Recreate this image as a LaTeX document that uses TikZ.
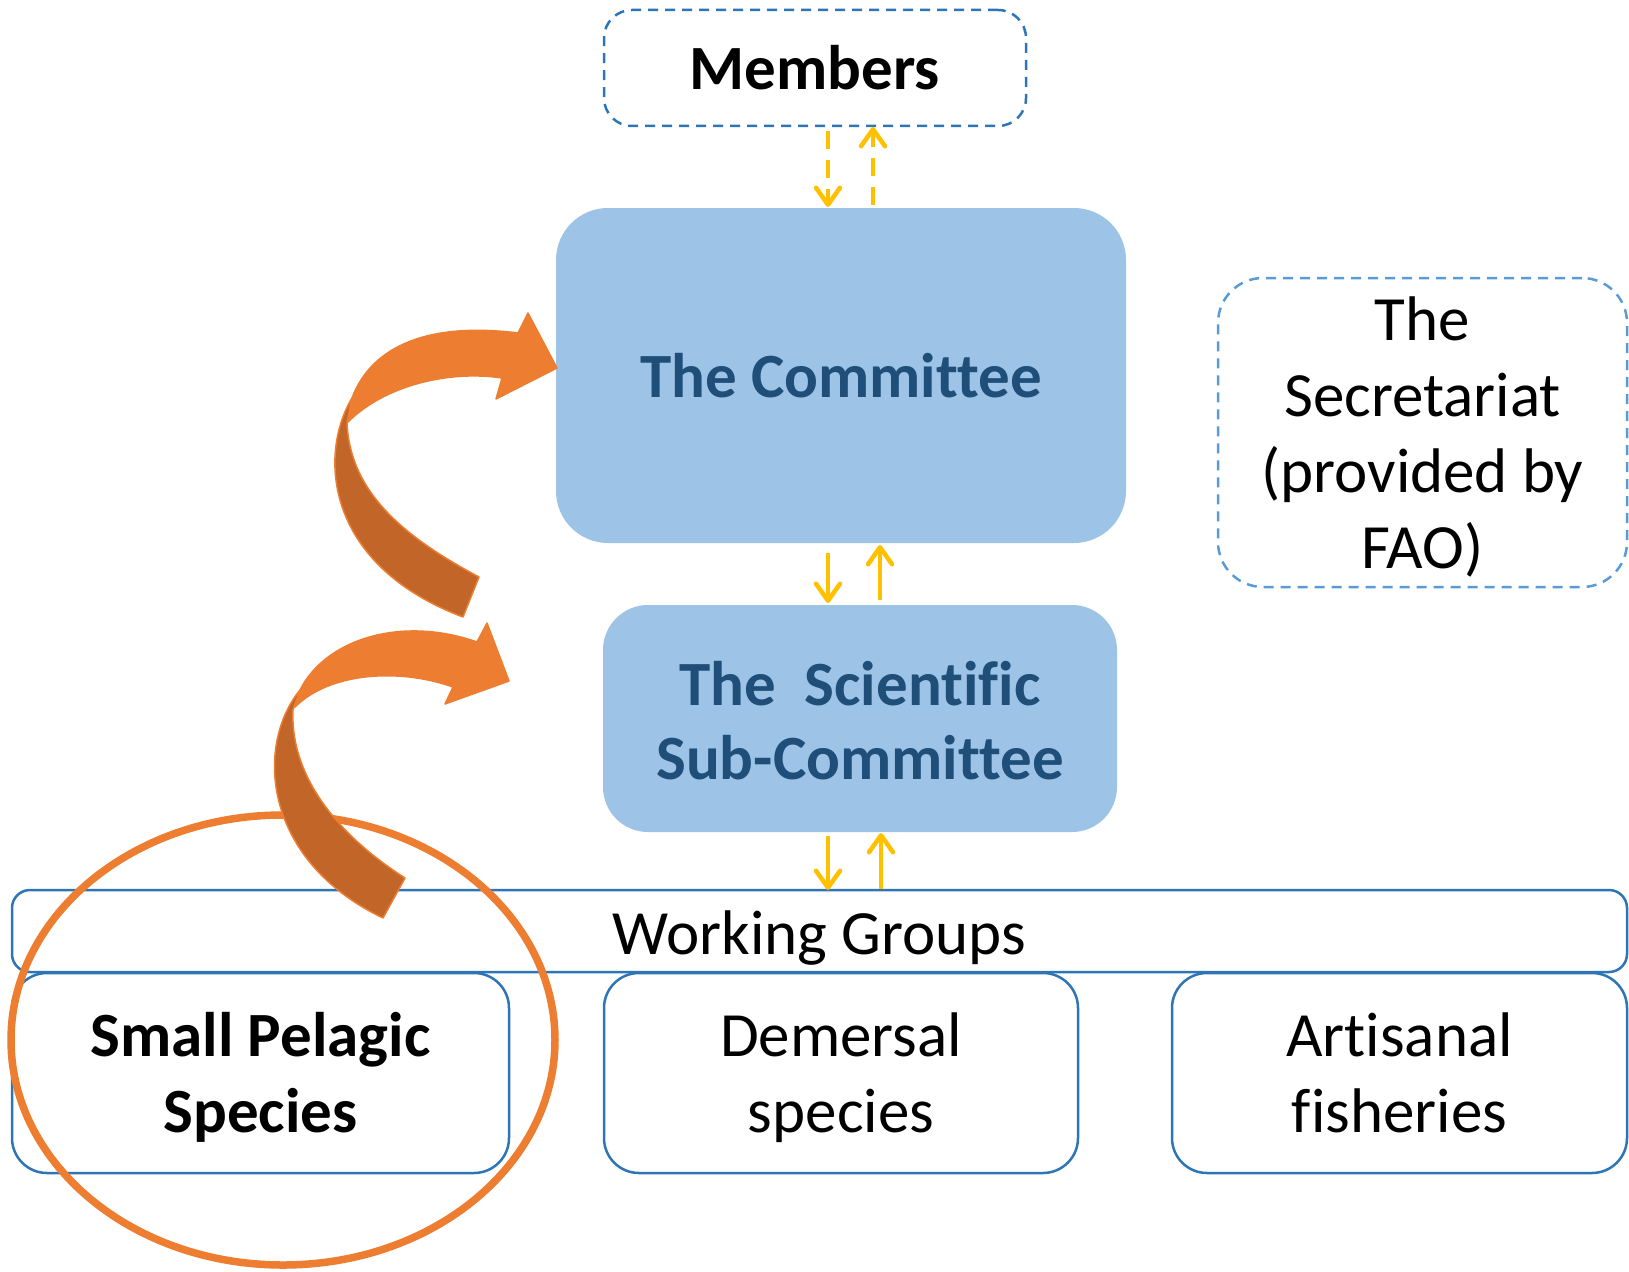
\documentclass[tikz,border=0pt]{standalone}
\usepackage{fontspec}
\setmainfont{Carlito}[Ligatures=CommonOff]
\usetikzlibrary{arrows.meta}

\definecolor{boxblue}{HTML}{9DC3E6}
\definecolor{textblue}{HTML}{1F4E79}
\definecolor{lineblue}{HTML}{2E75B6}
\definecolor{dashblue}{HTML}{5B9BD5}
\definecolor{linkyellow}{HTML}{FFC000}
\definecolor{ribbon}{HTML}{ED7D31}
\definecolor{ribbondark}{HTML}{C16628}

% invisible struts fixing the vertical extent of a text block
\newcommand{\topstrut}[1]{\rule{0pt}{#1}}
\newcommand{\botstrut}[1]{\rule[-#1]{0pt}{#1}}

\begin{document}
\begin{tikzpicture}[x=1pt,y=-1pt,
  txt/.style={font=\fontsize{63}{76}\selectfont, align=center, inner sep=0pt, outer sep=0pt, rectangle},
  body/.style={txt, fill=boxblue, text=textblue, font=\fontsize{63}{74}\selectfont\bfseries},
  dashbox/.style={txt, draw, dash pattern=on 10pt off 7pt, line width=2.5pt},
  group/.style={txt, draw=lineblue, line width=2.5pt},
  ylink/.style={draw=linkyellow, line width=4.5pt,
    -{Straight Barb[length=17pt,width=24pt,round]}},
  ydash/.style={ylink, dash pattern=on 18pt off 11pt},
  ribbonpart/.style={draw=ribbon, line width=1.5pt, line join=round}
]
\useasboundingbox (0,0) rectangle (1629,1271);

% organisational boxes
\node[dashbox, draw=lineblue, rounded corners=28pt, minimum width=422pt, minimum height=116pt,
      font=\fontsize{63}{76}\selectfont\bfseries] (members) at (815,68) {Members};
\node[body, rounded corners=52pt, minimum width=570pt, minimum height=335pt] (committee) at (841,375.5) {The Committee};
\node[body, rounded corners=45pt, minimum width=514pt, minimum height=227pt] (sub) at (860,718.5)
     {\topstrut{64pt}The\ \ Scientific\\Sub-Committee\botstrut{16pt}};
\node[dashbox, draw=dashblue, rounded corners=45pt, minimum width=409pt, minimum height=303pt] (secretariat) at (1422.5,432.5)
     {\topstrut{62pt}The\\Secretariat\\(provided by\\FAO)\botstrut{19pt}};

% working groups
\node[group, rounded corners=18pt, minimum width=1615pt, minimum height=82pt,
      text height=46pt, text depth=0pt] (wg) at (819.5,931) {Working Groups};
\node[group, rounded corners=35pt, minimum width=497pt, minimum height=200pt,
      font=\fontsize{63}{76}\selectfont\bfseries] (small) at (260.5,1073)
     {\topstrut{60pt}Small Pelagic\\Species\botstrut{18pt}};
\node[group, rounded corners=35pt, minimum width=474pt, minimum height=200pt] (demersal) at (841,1073)
     {\topstrut{60pt}Demersal\\species\botstrut{18pt}};
\node[group, rounded corners=35pt, minimum width=455pt, minimum height=200pt] (artisanal) at (1399.5,1073)
     {\topstrut{60pt}Artisanal\\fisheries\botstrut{18pt}};

% horizontal positions of the link arrows
\coordinate (xa) at (828,0);
\coordinate (xb) at (873,0);
\coordinate (xc) at (880,0);
\coordinate (xd) at (881,0);

% links between the levels
\draw[ydash, shorten <=5pt, shorten >=1pt] (members.south -| xa) -- (committee.north -| xa);
\draw[ydash, shorten <=3pt, shorten >=1pt] (committee.north -| xb) -- (members.south -| xb);
\draw[ylink, shorten <=10pt, shorten >=2pt] (committee.south -| xa) -- (sub.north -| xa);
\draw[ylink, shorten <=5pt, shorten >=2pt] (sub.north -| xc) -- (committee.south -| xc);
\draw[ylink, shorten <=4pt] (sub.south -| xa) -- (wg.north -| xa);
\draw[ylink, shorten <=1pt, shorten >=1pt] (wg.north -| xd) -- (sub.south -| xd);

% highlight around the small pelagic group
\draw[ribbon, line width=7.5pt] (283,1040) ellipse [x radius=272pt, y radius=225pt];

% upper curved ribbon arrow towards the Committee
\fill[ribbondark, ribbonpart]
  (352,398) .. controls (318,455) and (325,565) .. (463,617)
  -- (479,577) .. controls (400,535) and (350,490) .. (347,423) -- cycle;
\fill[ribbon, ribbonpart]
  (352,398) .. controls (372,345) and (430,322) .. (518,333)
  -- (528,313) -- (557,368) -- (496,399) -- (502,378)
  .. controls (450,370) and (385,385) .. (348,422) -- cycle;

% lower curved ribbon arrow towards the Scientific Sub-Committee
\fill[ribbondark, ribbonpart]
  (300,690) .. controls (255,745) and (262,860) .. (383,918)
  -- (405,878) .. controls (330,830) and (290,770) .. (293,710) -- cycle;
\fill[ribbon, ribbonpart]
  (300,690) .. controls (325,640) and (400,615) .. (477,642)
  -- (487,623) -- (509,681) -- (445,704) -- (453,687)
  .. controls (400,668) and (330,672) .. (295,707) -- cycle;
\end{tikzpicture}
\end{document}
